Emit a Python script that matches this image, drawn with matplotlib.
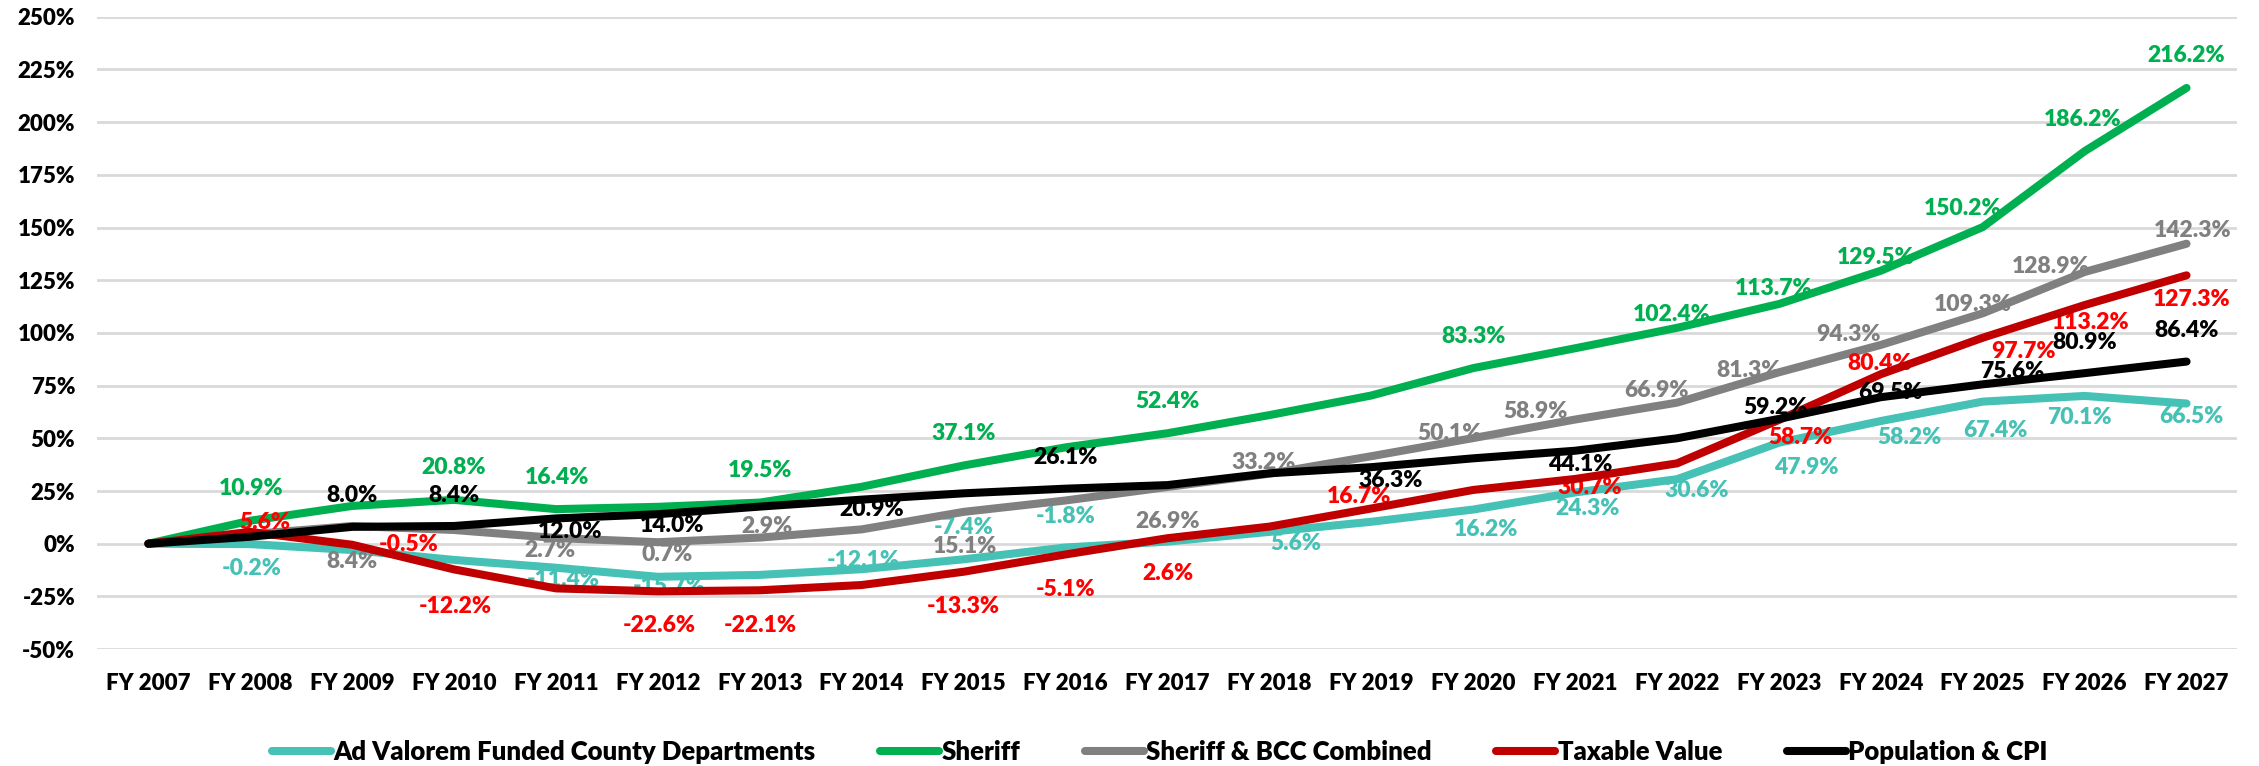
import matplotlib
matplotlib.use("Agg")
import matplotlib.pyplot as plt
from matplotlib.ticker import FuncFormatter

plt.rcParams['font.family'] = ['Lato', 'DejaVu Sans']
plt.rcParams['font.weight'] = 'heavy'

years = ["FY 2007", "FY 2008", "FY 2009", "FY 2010", "FY 2011", "FY 2012", "FY 2013",
         "FY 2014", "FY 2015", "FY 2016", "FY 2017", "FY 2018", "FY 2019", "FY 2020",
         "FY 2021", "FY 2022", "FY 2023", "FY 2024", "FY 2025", "FY 2026", "FY 2027"]

ad_valorem = [0, -0.2, -3.0, -7.7, -11.4, -15.7, -14.8, -12.1, -7.4, -1.8, 1.0, 5.6,
              10.4, 16.2, 24.3, 30.6, 47.9, 58.2, 67.4, 70.1, 66.5]
sheriff = [0, 10.9, 17.9, 20.8, 16.4, 17.5, 19.5, 27.0, 37.1, 45.7, 52.4, 61.0,
           70.3, 83.3, 92.7, 102.4, 113.7, 129.5, 150.2, 186.2, 216.2]
sheriff_bcc = [0, 4.5, 8.4, 6.5, 2.7, 0.7, 2.9, 6.8, 15.1, 20.5, 26.9, 33.2,
               41.5, 50.1, 58.9, 66.9, 81.3, 94.3, 109.3, 128.9, 142.3]
taxable = [0, 5.6, -0.5, -12.2, -21.2, -22.6, -22.1, -19.6, -13.3, -5.1, 2.6, 8.1,
           16.7, 25.5, 30.7, 38.1, 58.7, 80.4, 97.7, 113.2, 127.3]
pop_cpi = [0, 3.3, 8.0, 8.4, 12.0, 14.0, 17.6, 20.9, 23.9, 26.1, 27.8, 33.4,
           36.3, 40.5, 44.1, 50.0, 59.2, 69.5, 75.6, 80.9, 86.4]

series_names = ["Ad Valorem Funded County Departments", "Sheriff", "Sheriff & BCC Combined",
                "Taxable Value", "Population & CPI"]
series_values = [ad_valorem, sheriff, sheriff_bcc, taxable, pop_cpi]

# styles
line_colors = ["#46C1B5", "#00B050", "#808080", "#C00000", "#000000"]
label_colors = ["#46C1B5", "#00B050", "#808080", "#FF0000", "#000000"]

# label placement: index -> (dx, dy) offset in pixels from the data point
label_offsets = [
    {1: (1, -24), 4: (7, -12), 5: (11, -10), 7: (2, 9), 8: (0, 32), 9: (0, 31),
     11: (26, -12), 13: (13, -20), 14: (12, -16), 15: (20, -11), 16: (27, -25),
     17: (29, -16), 18: (13, -29), 19: (-5, -22), 20: (5, -13)},
    {1: (1, 32), 3: (0, 32), 4: (1, 32), 6: (0, 32), 8: (0, 32), 10: (0, 32),
     13: (0, 32), 15: (-5, 13), 16: (-5, 16), 17: (-5, 13), 18: (-20, 19),
     19: (-2, 32), 20: (0, 32)},
    {2: (0, -36), 4: (-6, -12), 5: (9, -12), 6: (7, 11), 8: (1, -35), 10: (0, -35),
     11: (-6, 11), 13: (-24, 5), 14: (-40, 8), 15: (-20, 12), 16: (-30, 2),
     17: (-32, 10), 18: (-10, 9), 19: (-34, 5), 20: (6, 13)},
    {1: (15, 9), 2: (56, 0), 3: (1, -37), 5: (1, -34), 6: (0, -35), 8: (0, -35),
     9: (0, -35), 10: (0, -35), 12: (-12, 12), 14: (15, -9), 16: (22, -18),
     17: (-1, 11), 18: (41, -14), 19: (6, -17), 20: (5, -24)},
    {2: (0, 31), 3: (0, 30), 4: (14, -13), 5: (14, -11), 7: (10, -10), 9: (0, 31),
     12: (19, -13), 14: (5, -14), 16: (-3, 11), 17: (10, 5), 18: (30, 13),
     19: (0, 31), 20: (0, 31)},
]

W, H, DPI = 2259, 766, 100
fig = plt.figure(figsize=(W / DPI, H / DPI), dpi=DPI)
ax = fig.add_axes([97.4 / W, (H - 649.1) / H, (2237.5 - 97.4) / W, (649.1 - 16.7) / H])

x = list(range(len(years)))
for k, (name, vals) in enumerate(zip(series_names, series_values)):
    ax.plot(x, vals, color=line_colors[k], lw=5.8, solid_capstyle='round',
            solid_joinstyle='round', label=name, zorder=3 + 2 * k)
    for i, (dx, dy) in label_offsets[k].items():
        ax.annotate(f"{vals[i]:.1f}%", (x[i], vals[i]), xytext=(dx, dy),
                    textcoords='offset pixels', ha='center', va='center',
                    fontsize=16.5, fontweight='heavy', color=label_colors[k],
                    zorder=2 + 2 * k)

ax.set_xlim(-0.5, len(years) - 0.5)
ax.set_ylim(-50, 250)
ax.set_yticks(range(-50, 251, 25))
ax.yaxis.set_major_formatter(FuncFormatter(lambda v, p: f"{int(v)}%"))
ax.set_xticks(x)
ax.set_xticklabels(years)
ax.tick_params(axis='both', length=0, labelsize=16, colors='black')
ax.tick_params(axis='y', pad=16)
ax.tick_params(axis='x', pad=17)
for lab in ax.get_xticklabels() + ax.get_yticklabels():
    lab.set_fontweight('heavy')
ax.grid(axis='y', color='#D9D9D9', lw=2)
ax.set_axisbelow(True)
for s in ax.spines.values():
    s.set_visible(False)

leg = fig.legend(loc='center', bbox_to_anchor=(0.5135, 0.0187), ncol=5, frameon=False,
                 handlelength=2.3, handletextpad=0.1, columnspacing=2.5,
                 prop={'size': 18.5, 'weight': 'heavy'})

fig.savefig("out.png", dpi=DPI)
